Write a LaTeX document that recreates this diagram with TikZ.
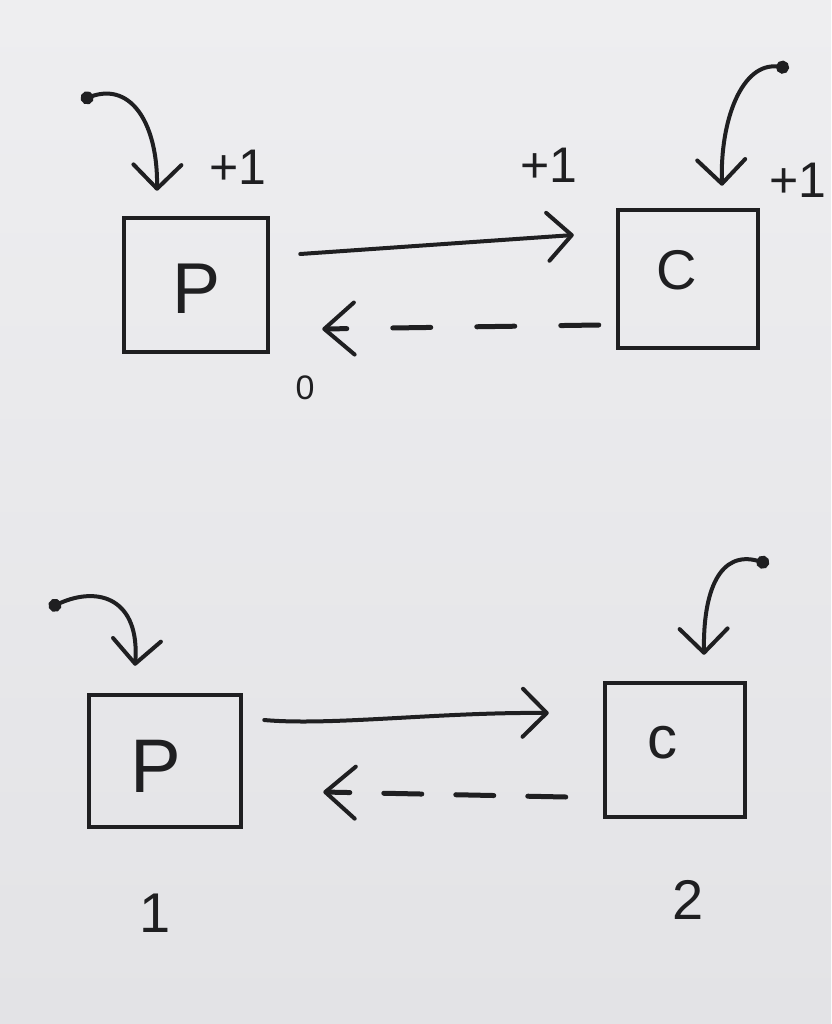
\documentclass[tikz,border=0pt]{standalone}
\usepackage{fontspec}
\setmainfont{Liberation Sans}
\usetikzlibrary{arrows.meta}
\definecolor{ink}{HTML}{1F1F21}
\definecolor{papertop}{HTML}{EEEEF0}
\definecolor{paperbot}{HTML}{E3E3E6}
\tikzset{
  boxnode/.style={draw=ink, line width=4.5pt, inner sep=0pt},
  conn/.style={draw=ink, line width=4pt, line cap=round, -{Straight Barb[length=24pt,width=48pt,round]}},
  dconn/.style={draw=ink, line width=5pt, line cap=round, -{Straight Barb[length=30pt,width=52pt,round,line width=4pt]}},
  feed/.style={draw=ink, line width=4pt, line cap=round, {Circle[length=13pt]}-{Straight Barb[length=24pt,width=48pt,round]}},
  lbl/.style={text=ink, inner sep=0pt},
}
\begin{document}
\begin{tikzpicture}[x=1pt,y=-1pt]
\fill[top color=papertop, bottom color=paperbot] (0,0) rectangle (831,1024);
\useasboundingbox (0,0) rectangle (831,1024);

% ---- top diagram ----
\node[boxnode, minimum width=144pt, minimum height=134pt] (pT) at (196,285) {};
\node[boxnode, minimum width=140pt, minimum height=138pt] (cT) at (688,279) {};
\node[lbl, font=\fontsize{72}{72}\selectfont] (pTl) at (197,289) {P};
\node[lbl, font=\fontsize{56}{56}\selectfont] (cTl) at (677,270) {C};

\draw[conn] ([xshift=30pt,yshift=31pt]pT.east) -- ([xshift=-42pt,yshift=44pt]cT.west);
\draw[dconn, dash pattern=on 38pt off 46pt] ([xshift=-17pt,yshift=-46pt]cT.west) -- ([xshift=52pt,yshift=-44pt]pT.east);

\coordinate (dTl) at (81,100);
\coordinate (dTr) at (789,68);
\draw[feed] (dTl) .. controls (132,82) and (158,125) .. ([xshift=-39pt,yshift=25pt]pT.north);
\draw[feed] (dTr) .. controls (742,62) and (720,120) .. ([xshift=34pt,yshift=22pt]cT.north);

\node[lbl, font=\fontsize{50}{50}\selectfont] (p1a) at (238,167) {+1};
\node[lbl, font=\fontsize{50}{50}\selectfont] (p1b) at (549,165) {+1};
\node[lbl, font=\fontsize{50}{50}\selectfont] (p1c) at (798,180) {+1};
\node[lbl, font=\fontsize{34}{34}\selectfont] (zero) at (305,388) {0};

% ---- bottom diagram ----
\node[boxnode, minimum width=152pt, minimum height=132pt] (pB) at (165,761) {};
\node[boxnode, minimum width=140pt, minimum height=134pt] (cB) at (675,750) {};
\node[lbl, font=\fontsize{76}{76}\selectfont] (pBl) at (156,766) {P};
\node[lbl, font=\fontsize{60}{60}\selectfont] (cBl) at (662,743) {c};

\draw[conn] ([xshift=21pt,yshift=41pt]pB.east) .. controls (330,726) and (440,712) .. ([xshift=-54pt,yshift=37pt]cB.west);
\draw[dconn, dash pattern=on 38pt off 34pt] ([xshift=-37pt,yshift=-47pt]cB.west) -- ([xshift=80pt,yshift=-31pt]pB.east);

\coordinate (dBl) at (49,608);
\coordinate (dBr) at (769,564);
\draw[feed] (dBl) .. controls (100,585) and (140,600) .. ([xshift=-30pt,yshift=27pt]pB.north);
\draw[feed] (dBr) .. controls (720,550) and (703,590) .. ([xshift=29pt,yshift=26pt]cB.north);

\node[lbl, font=\fontsize{56}{56}\selectfont] (n1) at (155,913) {1};
\node[lbl, font=\fontsize{56}{56}\selectfont] (n2) at (688,900) {2};
\end{tikzpicture}
\end{document}
